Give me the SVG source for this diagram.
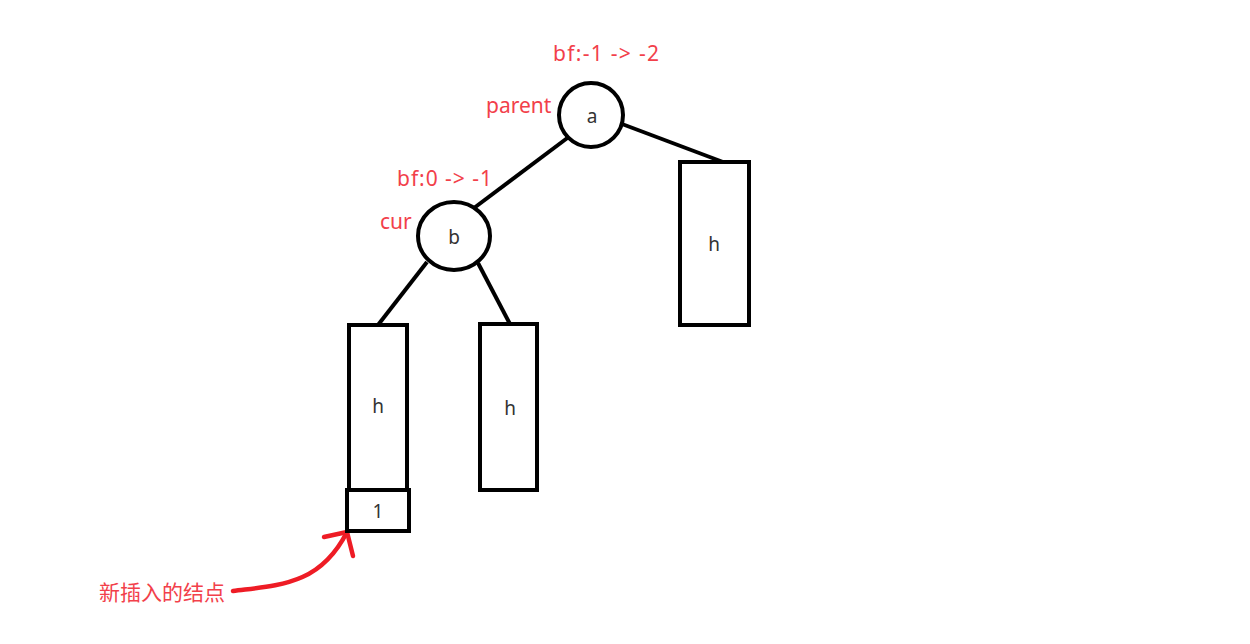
<svg xmlns="http://www.w3.org/2000/svg" width="1250" height="644" viewBox="0 0 1250 644">
<style>
.shape{fill:#fff;stroke:#000;stroke-width:4}
.edge{stroke:#000;stroke-width:4;fill:none}
.lbl{font-family:"Noto Sans","Noto Sans CJK SC",sans-serif;font-size:19px;fill:#333;text-anchor:middle}
.red{font-family:"Noto Sans","Noto Sans CJK SC",sans-serif;font-size:21px;fill:#f2404a}
.arrow{stroke:#ee1c25;stroke-width:4.5;fill:none;stroke-linecap:round;stroke-linejoin:round}
</style>
<rect width="1250" height="644" fill="#fff"/>
<g id="connectors">
<line class="edge" x1="570" y1="136" x2="474" y2="208"/>
<line class="edge" x1="622" y1="124" x2="723" y2="162"/>
<line class="edge" x1="427" y1="262" x2="378" y2="325"/>
<line class="edge" x1="478" y1="263" x2="510" y2="324"/>
<path class="arrow" d="M233,591 C280,585 320,585 347,532"/>
<path class="arrow" d="M324,537 L347,532 L353,556"/>
</g>
<g id="node-a">
<circle class="shape" cx="591" cy="115" r="32"/>
<text class="lbl" x="592" y="123">a</text>
</g>
<g id="node-b">
<ellipse class="shape" cx="454" cy="236" rx="36" ry="34"/>
<text class="lbl" x="454" y="244">b</text>
</g>
<g id="node-h-right">
<rect class="shape" x="680" y="162" width="69" height="163"/>
<text class="lbl" x="714" y="251">h</text>
</g>
<g id="node-h-left">
<rect class="shape" x="349" y="325" width="58" height="165"/>
<text class="lbl" x="378" y="413">h</text>
</g>
<g id="node-h-mid">
<rect class="shape" x="480" y="324" width="57" height="166"/>
<text class="lbl" x="510" y="415">h</text>
</g>
<g id="node-1">
<rect class="shape" x="347" y="490" width="62" height="41"/>
<text class="lbl" x="378" y="518">1</text>
</g>
<g id="labels">
<text class="red" x="553" y="61" textLength="106" lengthAdjust="spacing">bf:-1 -&gt; -2</text>
<text class="red" x="486" y="113">parent</text>
<text class="red" x="397" y="186" textLength="95" lengthAdjust="spacing">bf:0 -&gt; -1</text>
<text class="red" x="380" y="229">cur</text>
<text class="red" x="99" y="600">新插入的结点</text>
</g>
</svg>
